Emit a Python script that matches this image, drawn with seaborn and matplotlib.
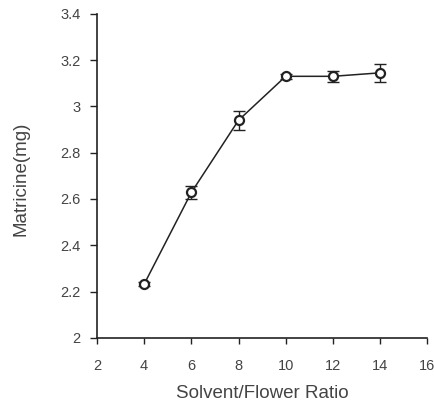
import matplotlib
matplotlib.use("Agg")
import matplotlib.pyplot as plt
import seaborn as sns
import pandas as pd

ratio = [4, 6, 8, 10, 12, 14]
matricine = [2.232, 2.628, 2.94, 3.13, 3.13, 3.145]
err = [0.01, 0.03, 0.04, 0.01, 0.025, 0.04]
xticks = [2, 4, 6, 8, 10, 12, 14, 16]
yticks = [2, 2.2, 2.4, 2.6, 2.8, 3, 3.2, 3.4]
ytick_labels = ["2", "2.2", "2.4", "2.6", "2.8", "3", "3.2", "3.4"]

sns.set_style("ticks")
plt.rcParams['font.family'] = ['Liberation Sans', 'DejaVu Sans']
txt = "#444444"

fig = plt.figure(figsize=(4.35, 4.07), dpi=100)
ax = fig.add_axes([0.223, 0.17, 0.759, 0.796])

df = pd.DataFrame({"ratio": ratio, "matricine": matricine})
ax.errorbar(ratio, matricine, yerr=err, fmt="none", ecolor="#222222",
            elinewidth=1.0, capsize=4, capthick=1.0, zorder=2)
sns.lineplot(data=df, x="ratio", y="matricine", ax=ax, color="#222222",
             linewidth=1.1, marker="o", markersize=6.5, markerfacecolor="white",
             markeredgecolor="#222222", markeredgewidth=1.6, zorder=3)

ax.set_xlim(2, 16)
ax.set_ylim(2, 3.4)
ax.set_xticks(xticks)
ax.set_yticks(yticks)
ax.set_yticklabels(ytick_labels)
ax.tick_params(axis="both", direction="out", width=1, labelsize=10.5,
               labelcolor=txt, colors="#222222")
ax.tick_params(axis="x", length=4, pad=11)
ax.tick_params(axis="y", length=5, pad=7)
for s in ["top", "right"]:
    ax.spines[s].set_visible(False)
for s in ["left", "bottom"]:
    ax.spines[s].set_color("#222222")
    ax.spines[s].set_linewidth(1.2)
ax.set_xlabel("Solvent/Flower Ratio", fontsize=13.5, color=txt)
ax.set_ylabel("Matricine(mg)", fontsize=13.5, color=txt)
ax.xaxis.set_label_coords(0.5, -0.145)
ax.yaxis.set_label_coords(-0.205, 0.49)

fig.savefig("out.png", dpi=100)
